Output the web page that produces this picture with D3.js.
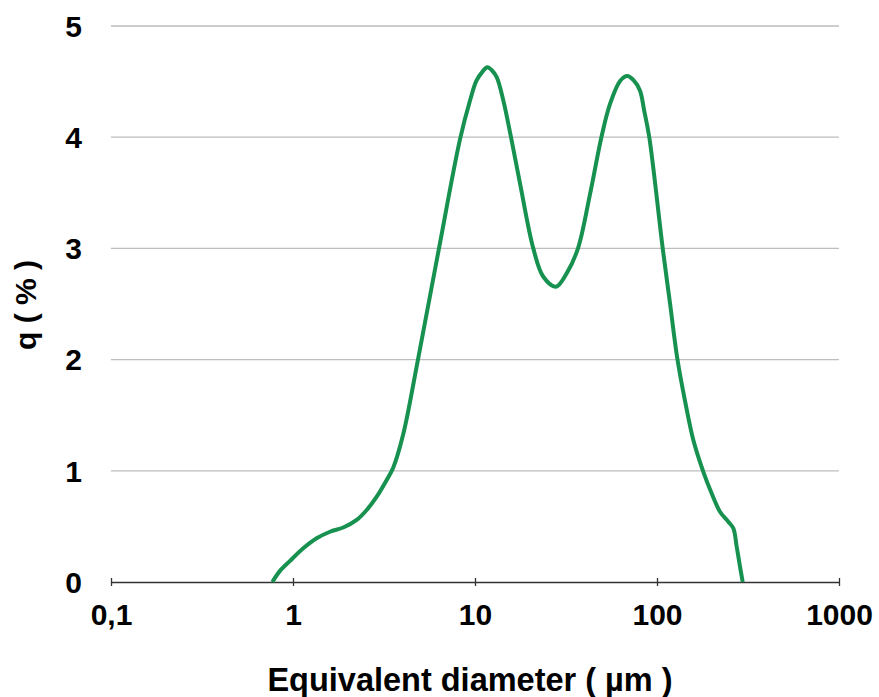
<!DOCTYPE html>
<html>
<head>
<meta charset="utf-8">
<script src="https://cdn.jsdelivr.net/npm/d3@7"></script>
<style>
  body { margin: 0; background: #fff; }
  svg text { font-family: "Liberation Sans", Arial, sans-serif; font-weight: bold; fill: #000; }
</style>
</head>
<body>
<div id="chart"></div>
<script>
// particle size distribution
const diameter = [0.770, 0.848, 0.963, 1.139, 1.349, 1.597, 1.889, 2.239, 2.541, 2.884, 3.272, 3.557, 4.036, 4.86, 6.34, 8.27, 9.39, 10.2, 11.0, 11.68, 12.4, 13.16, 14.31, 15.77, 17.67, 20.91, 23.73, 27.86, 32, 36.8, 43, 49.5, 55.2, 63, 68.7, 74.5, 80.6, 85, 90.7, 107.5, 117.9, 129.3, 142.5, 158.3, 179.7, 199.8, 221.9, 246.5, 262.6, 274.1, 285.8, 295.8];
const q = [0, 0.10, 0.19, 0.303, 0.393, 0.452, 0.49, 0.558, 0.647, 0.767, 0.917, 1.03, 1.33, 2.0, 3.0, 3.98, 4.33, 4.51, 4.59, 4.63, 4.60, 4.54, 4.33, 4.0, 3.585, 3.0, 2.745, 2.656, 2.78, 3.0, 3.5, 4.0, 4.30, 4.51, 4.55, 4.51, 4.42, 4.24, 4.0, 3.0, 2.506, 2.01, 1.63, 1.277, 0.991, 0.796, 0.632, 0.542, 0.483, 0.317, 0.138, 0];

const xTicks = [0.1, 1, 10, 100, 1000];
const xTickLabels = ['0,1', '1', '10', '100', '1000'];
const yTicks = [0, 1, 2, 3, 4, 5];

const W = 879, H = 697;
const margin = { top: 26, right: 40, bottom: 115, left: 111 };
const width = W - margin.left - margin.right;
const height = H - margin.top - margin.bottom;

const svg = d3.select('#chart').append('svg')
  .attr('width', W).attr('height', H)
  .append('g')
  .attr('transform', `translate(${margin.left}, ${margin.top})`);

const x = d3.scaleLog().domain([0.1, 1000]).range([0, width]);
const y = d3.scaleLinear().domain([0, 5]).range([height, 0]);

// horizontal grid
svg.append('g')
  .selectAll('line')
  .data(yTicks.filter(d => d > 0))
  .join('line')
  .attr('x1', 0).attr('x2', width)
  .attr('y1', d => y(d)).attr('y2', d => y(d))
  .attr('stroke', '#bdbdbd')
  .attr('stroke-width', 1.3);

// y tick labels (no axis line)
svg.append('g')
  .selectAll('text')
  .data(yTicks)
  .join('text')
  .attr('x', -29)
  .attr('y', d => y(d))
  .attr('dy', '0.36em')
  .attr('text-anchor', 'end')
  .style('font-size', '30px')
  .text(d => d);

// x axis
const gx = svg.append('g')
  .attr('transform', `translate(0, ${height})`)
  .call(d3.axisBottom(x).tickValues(xTicks).tickSize(0).tickFormat((d, i) => xTickLabels[i]));
gx.select('.domain').attr('stroke', '#333').attr('stroke-width', 1.3);
gx.selectAll('.tick text')
  .attr('y', 43)
  .attr('dy', 0)
  .style('font-size', '30px')
  .style('font-family', '"Liberation Sans", Arial, sans-serif')
  .style('font-weight', 'bold')
  .attr('fill', '#000');
gx.selectAll('.tick')
  .append('line')
  .attr('y1', -4).attr('y2', 4)
  .attr('stroke', '#333')
  .attr('stroke-width', 1.3);

// curve
const line = d3.line()
  .x((d, i) => x(diameter[i]))
  .y(d => y(d))
  .curve(d3.curveCatmullRom.alpha(0.5));

svg.append('path')
  .datum(q)
  .attr('fill', 'none')
  .attr('stroke', '#17914f')
  .attr('stroke-width', 4)
  .attr('stroke-linejoin', 'round')
  .attr('d', line);

// axis labels
svg.append('text')
  .attr('x', 470 - margin.left)
  .attr('y', 691 - margin.top)
  .attr('text-anchor', 'middle')
  .style('font-size', '32.5px')
  .text('Equivalent diameter ( µm )');

svg.append('text')
  .attr('transform', `translate(${36 - margin.left}, ${305 - margin.top}) rotate(-90)`)
  .attr('text-anchor', 'middle')
  .style('font-size', '30px')
  .text('q ( % )');
</script>
</body>
</html>
